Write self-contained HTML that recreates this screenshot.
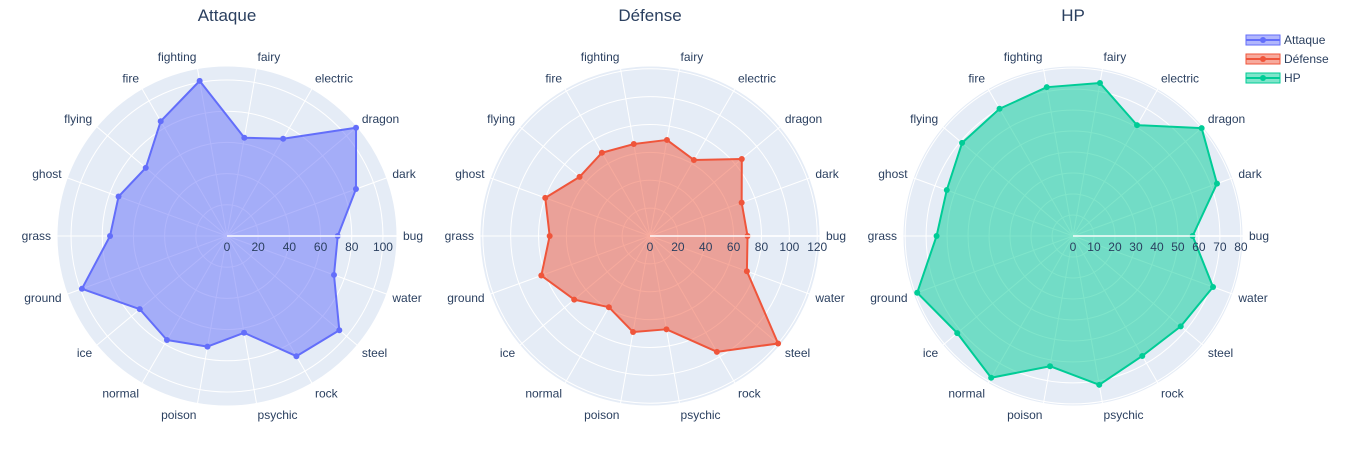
<!DOCTYPE html>
<html><head><meta charset="utf-8"><style>
body{margin:0;background:#fff;font-family:"Liberation Sans",sans-serif}
svg text{font-family:"Liberation Sans",sans-serif;fill:#2a3f5f}
</style></head><body>
<svg id="chart" width="1366" height="457" xmlns="http://www.w3.org/2000/svg"></svg>
<script>
const categories = ["bug","dark","dragon","electric","fairy","fighting","fire","flying","ghost","grass","ground","ice","normal","poison","psychic","rock","steel","water"];
const attaqueValues = [71,88,108,72,64,101,85,68,74,75,99,73,77,72,63,89,94,73];
const defenseValues = [70,70,86,63,70,67,69,66,80,72,83,71,59,70,68,96,120,74];
const hpValues = [57,73,80,61,74,72,70,69,64,65,79,72,78,63,72,66,67,71];
const attaqueTicks = [0,20,40,60,80,100];
const defenseTicks = [0,20,40,60,80,100,120];
const hpTicks = [0,10,20,30,40,50,60,70,80];
const attaqueMax = 109, defenseMax = 122, hpMax = 81;

const NS = "http://www.w3.org/2000/svg";
const svg = document.getElementById('chart');
function mk(tag, attrs, parent){const e=document.createElementNS(NS,tag);for(const k in attrs)e.setAttribute(k,attrs[k]);(parent||svg).appendChild(e);return e;}

const panels = [
 {title:"Attaque", cx:227, values:attaqueValues, ticks:attaqueTicks, max:attaqueMax, color:"#636efa", fill:"rgba(99,110,250,0.5)", key:"attaque"},
 {title:"Défense", cx:650, values:defenseValues, ticks:defenseTicks, max:defenseMax, color:"#EF553B", fill:"rgba(239,85,59,0.5)", key:"defense"},
 {title:"HP", cx:1073, values:hpValues, ticks:hpTicks, max:hpMax, color:"#00cc96", fill:"rgba(0,204,150,0.5)", key:"hp"}
];
const CY = 236, R = 170;

panels.forEach(p=>{
  const g = mk('g',{});
  
  
  const rs = v => v/p.max*R;
  const ang = i => i*2*Math.PI/categories.length;
  const pt = (i,v)=>[p.cx+rs(v)*Math.cos(ang(i)), CY-rs(v)*Math.sin(ang(i))];
  const bg = mk('circle',{cx:p.cx,cy:CY,r:R,fill:"#E5ECF6"},g);
  
  
  p.ticks.forEach(t=>{ if(t>0) mk('circle',{cx:p.cx,cy:CY,r:rs(t),fill:"none",stroke:"#fff","stroke-width":1},g); });
  categories.forEach((c,i)=>{
    const [x,y]=pt(i,p.max);
    mk('line',{x1:p.cx,y1:CY,x2:x,y2:y,stroke:"#fff","stroke-width":1},g);
    const a=ang(i), lr=R+6;
    const lx=p.cx+lr*Math.cos(a), ly=CY-lr*Math.sin(a);
    const cs=Math.cos(a);
    const anchor = cs>0.01?"start":(cs<-0.01?"end":"middle");
    const tx = mk('text',{x:lx,y:ly+4-6*Math.sin(a),"font-size":12,"text-anchor":anchor},g);
    tx.textContent=c;
    
    
  });
  mk('circle',{cx:p.cx,cy:CY,r:R,fill:"none",stroke:"#fff","stroke-width":1},g);
  const poly = mk('polygon',{points:categories.map((c,i)=>pt(i,p.values[i]).join(',')).join(' '),fill:p.fill,stroke:p.color,"stroke-width":2,"stroke-linejoin":"round"},g);
  
  
  categories.forEach((c,i)=>{
    const [x,y]=pt(i,p.values[i]);
    const m = mk('circle',{cx:x,cy:y,r:3,fill:p.color},g);
    
    
  });
  mk('line',{x1:p.cx,y1:CY,x2:p.cx+R,y2:CY,stroke:"rgba(255,255,255,0.7)","stroke-width":2},g);
  p.ticks.forEach(t=>{
    const tx = mk('text',{x:p.cx+rs(t),y:CY+15,"font-size":12,"text-anchor":"middle"},g);
    tx.textContent=t;
    
    
  });
  const ti = mk('text',{x:p.cx,y:21,"font-size":17,"text-anchor":"middle"},g);
  ti.textContent=p.title;
  
  
});

const lg = mk('g',{});


panels.forEach((p,i)=>{
  const y = 40+i*19;
  const e = mk('g',{},lg);
  
  
  mk('rect',{x:1246,y:y-5,width:34,height:10,fill:p.fill,stroke:p.color,"stroke-width":1},e);
  mk('line',{x1:1246,y1:y,x2:1280,y2:y,stroke:p.color,"stroke-width":2},e);
  mk('circle',{cx:1263,cy:y,r:3,fill:p.color},e);
  const t = mk('text',{x:1284,y:y+4,"font-size":12},e);
  t.textContent=p.title;
});
</script>
</body></html>
